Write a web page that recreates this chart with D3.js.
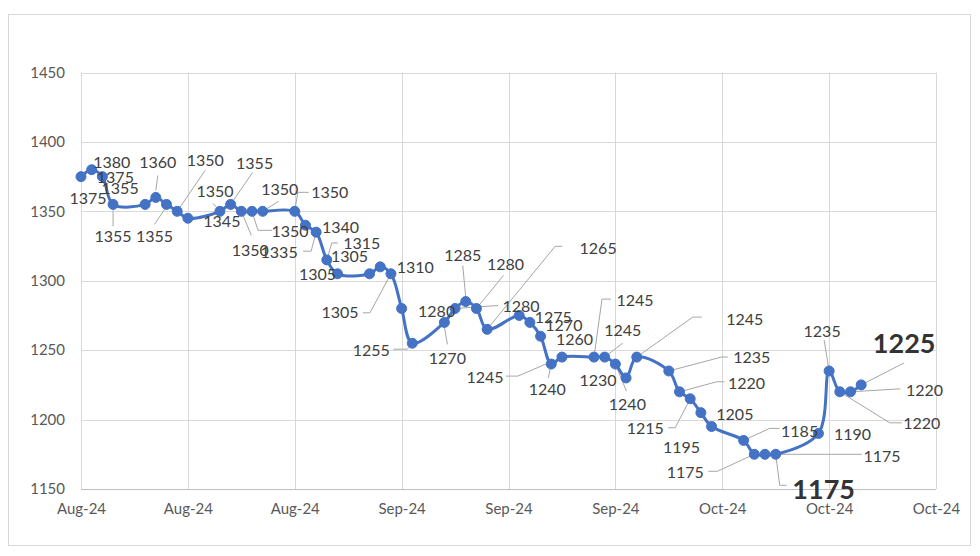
<!DOCTYPE html>
<html>
<head>
<meta charset="utf-8">
<script src="https://cdn.jsdelivr.net/npm/d3@7"></script>
<style>
  html, body { margin: 0; padding: 0; background: #fff; }
  svg { display: block; font-family: Lato, "Liberation Sans", sans-serif; }
</style>
</head>
<body>
<svg id="chart" width="980" height="556"></svg>
<script>
// ---- data ----
const dates = ["2024-08-02","2024-08-03","2024-08-04","2024-08-05",
  "2024-08-08","2024-08-09","2024-08-10","2024-08-11","2024-08-12",
  "2024-08-15","2024-08-16","2024-08-17","2024-08-18","2024-08-19",
  "2024-08-22","2024-08-23","2024-08-24","2024-08-25","2024-08-26",
  "2024-08-29","2024-08-30","2024-08-31","2024-09-01","2024-09-02",
  "2024-09-05","2024-09-06","2024-09-07","2024-09-08","2024-09-09",
  "2024-09-12","2024-09-13","2024-09-14","2024-09-15","2024-09-16",
  "2024-09-19","2024-09-20","2024-09-21","2024-09-22","2024-09-23",
  "2024-09-26","2024-09-27","2024-09-28","2024-09-29","2024-09-30",
  "2024-10-03","2024-10-04","2024-10-05","2024-10-06",
  "2024-10-10","2024-10-11","2024-10-12","2024-10-13","2024-10-14"];
const prices = [1375,1380,1375,1355,
  1355,1360,1355,1350,1345,
  1350,1355,1350,1350,1350,
  1350,1340,1335,1315,1305,
  1305,1310,1305,1280,1255,
  1270,1280,1285,1280,1265,
  1275,1270,1260,1240,1245,
  1245,1245,1240,1230,1245,
  1235,1220,1215,1205,1195,
  1185,1175,1175,1175,
  1190,1235,1220,1220,1225];
const yTicks = [1150,1200,1250,1300,1350,1400,1450];
const xStart = "2024-08-02", xEnd = "2024-10-22";
const xTickStepDays = 10;

// ---- label placement (layout only): [dx, dy, leader offsets, bold] ----
const labelLayout = [
  [7,21,null],[20,-8,null],[13,0,null],[0,31,[[0,6],[0,22]]],
  [-25,-17,null],[2,-36,[[0,-7],[2,-22]]],[-12,31,[[-2,5],[-12,20]]],[28,-52,[[0,0],[28,-41]]],[34,2,null],
  [-5,-21,[[0,0],[-7,-8]]],[24,-42,[[0,0],[22,-32]]],[9,38,[[0,0],[10,24]]],[38,19,[[0,0],[6,19],[20,19]]],[17,-23,[[0,0],[16,-10]]],
  [35,-20,[[0,0],[3,-19],[14,-19]]],[35,1,null],[-37,19,[[0,0],[-5,19],[-13,19]]],[35,-17,[[0,0],[5,-17],[11,-17]]],[-20,0,null],
  [-20,-18,null],[35,0,null],[-51,38,[[0,0],[-21,39],[-28,39]]],[35,2,null],[-41,6,[[0,0],[-5,6],[-19,6]]],
  [3,35,[[0,4],[3,22]]],[66,-3,[[0,0],[43,-3]]],[-3,-47,[[0,-4],[-3,-36]]],[29,-45,[[0,0],[27,-33]]],[111,-82,[[0,0],[68,-83],[75,-83]]],
  [34,1,null],[34,2,null],[34,2,null],[-4,24,[[0,0],[-3,14]]],[-77,19,[[0,0],[-44,19],[-56,19]]],
  [41,-58,[[0,0],[8,-58],[17,-58]]],[18,-28,[[0,0],[18,-14]]],[12,39,[[0,0],[11,27]]],[-28,2,null],[108,-39,[[0,0],[56,-40],[65,-40]]],
  [83,-14,[[0,0],[53,-14],[59,-14]]],[67,-9,[[0,0],[37,-10],[45,-10]]],[-45,29,[[0,0],[-15,29],[-22,29]]],[34,1,null],[-30,20,null],
  [56,-10,[[0,0],[26,-12],[36,-12]]],[-69,17,[[0,0],[-37,17],[-46,17]]],[117,1,[[0,0],[97,0]]],[48,34,[[0,0],[4,31],[11,31]],true],
  [34,0,null],[-7,-40,[[0,0],[-5,-31]]],[82,31,[[0,0],[50,31],[62,31]]],[74,-2,[[0,0],[50,-3]]],[43,-42,[[0,0],[43,-22]],true]
];

// ---- chart ----
const svg = d3.select("#chart");
const parse = d3.utcParse("%Y-%m-%d");
const plot = {left: 81, right: 936, top: 72.5, bottom: 489};

// outer chart border
svg.append("rect").attr("x", 8.5).attr("y", 14.5).attr("width", 962).attr("height", 531)
  .attr("fill", "#fff").attr("stroke", "#d9d9d9").attr("stroke-width", 1);

const x = d3.scaleUtc().domain([parse(xStart), d3.utcDay.offset(parse(xEnd), -1)]).range([plot.left, plot.right]);
const y = d3.scaleLinear().domain([1150, 1450]).range([plot.bottom, plot.top]);

const xTickVals = d3.range(0, 81, xTickStepDays).map(d => d3.utcDay.offset(parse(xStart), d));

// gridlines
const g = svg.append("g");
g.selectAll("line.h").data(yTicks).join("line")
  .attr("x1", plot.left).attr("x2", plot.right)
  .attr("y1", d => Math.round(y(d)) + 0.5).attr("y2", d => Math.round(y(d)) + 0.5)
  .attr("stroke", d => d === 1150 ? "#bfbfbf" : "#d9d9d9").attr("stroke-width", 1);
g.selectAll("line.v").data(xTickVals).join("line")
  .attr("x1", d => Math.round(x(d)) + 0.5).attr("x2", d => Math.round(x(d)) + 0.5)
  .attr("y1", plot.top).attr("y2", plot.bottom)
  .attr("stroke", "#d9d9d9").attr("stroke-width", 1);

// axes (labels only)
const yAxis = d3.axisLeft(y).tickValues(yTicks).tickFormat(d3.format("d")).tickSize(0).tickPadding(16);
svg.append("g").attr("transform", `translate(${plot.left},0)`).call(yAxis)
  .call(a => a.select(".domain").remove())
  .call(a => a.selectAll("text").attr("fill", "#595959").attr("font-size", 15).attr("font-family", "Lato, sans-serif"));
const xAxis = d3.axisBottom(x).tickValues(xTickVals).tickFormat(d3.utcFormat("%b-%y")).tickSize(0).tickPadding(14);
svg.append("g").attr("transform", `translate(0,${plot.bottom})`).call(xAxis)
  .call(a => a.select(".domain").remove())
  .call(a => a.selectAll("text").attr("fill", "#595959").attr("font-size", 15).attr("font-family", "Lato, sans-serif"));

const data = dates.map((d, i) => ({date: parse(d), value: prices[i], layout: labelLayout[i]}));

// leader lines
svg.append("g").selectAll("polyline").data(data.filter(d => d.layout[2])).join("polyline")
  .attr("points", d => d.layout[2].map(p => [x(d.date) + p[0], y(d.value) + p[1]].join(",")).join(" "))
  .attr("fill", "none").attr("stroke", "#a6a6a6").attr("stroke-width", 1);

// series line
const line = d3.line().x(d => x(d.date)).y(d => y(d.value)).curve(d3.curveCatmullRom.alpha(0.5));
svg.append("path").datum(data).attr("d", line)
  .attr("fill", "none").attr("stroke", "#4472C4").attr("stroke-width", 3).attr("stroke-linejoin", "round");

// markers
svg.append("g").selectAll("circle").data(data).join("circle")
  .attr("cx", d => x(d.date)).attr("cy", d => y(d.value)).attr("r", 5)
  .attr("fill", "#4472C4").attr("stroke", "#4472C4").attr("stroke-width", 1);

// data labels
svg.append("g").selectAll("text").data(data).join("text")
  .attr("x", d => x(d.date) + d.layout[0])
  .attr("y", d => y(d.value) + d.layout[1])
  .attr("text-anchor", "middle").attr("dominant-baseline", "central")
  .attr("font-family", "Lato, sans-serif")
  .attr("font-size", d => d.layout[3] ? 27 : 16)
  .attr("font-weight", d => d.layout[3] ? "bold" : "normal")
  .attr("fill", d => d.layout[3] ? "#333333" : "#404040")
  .text(d => d.value);
</script>
</body>
</html>
